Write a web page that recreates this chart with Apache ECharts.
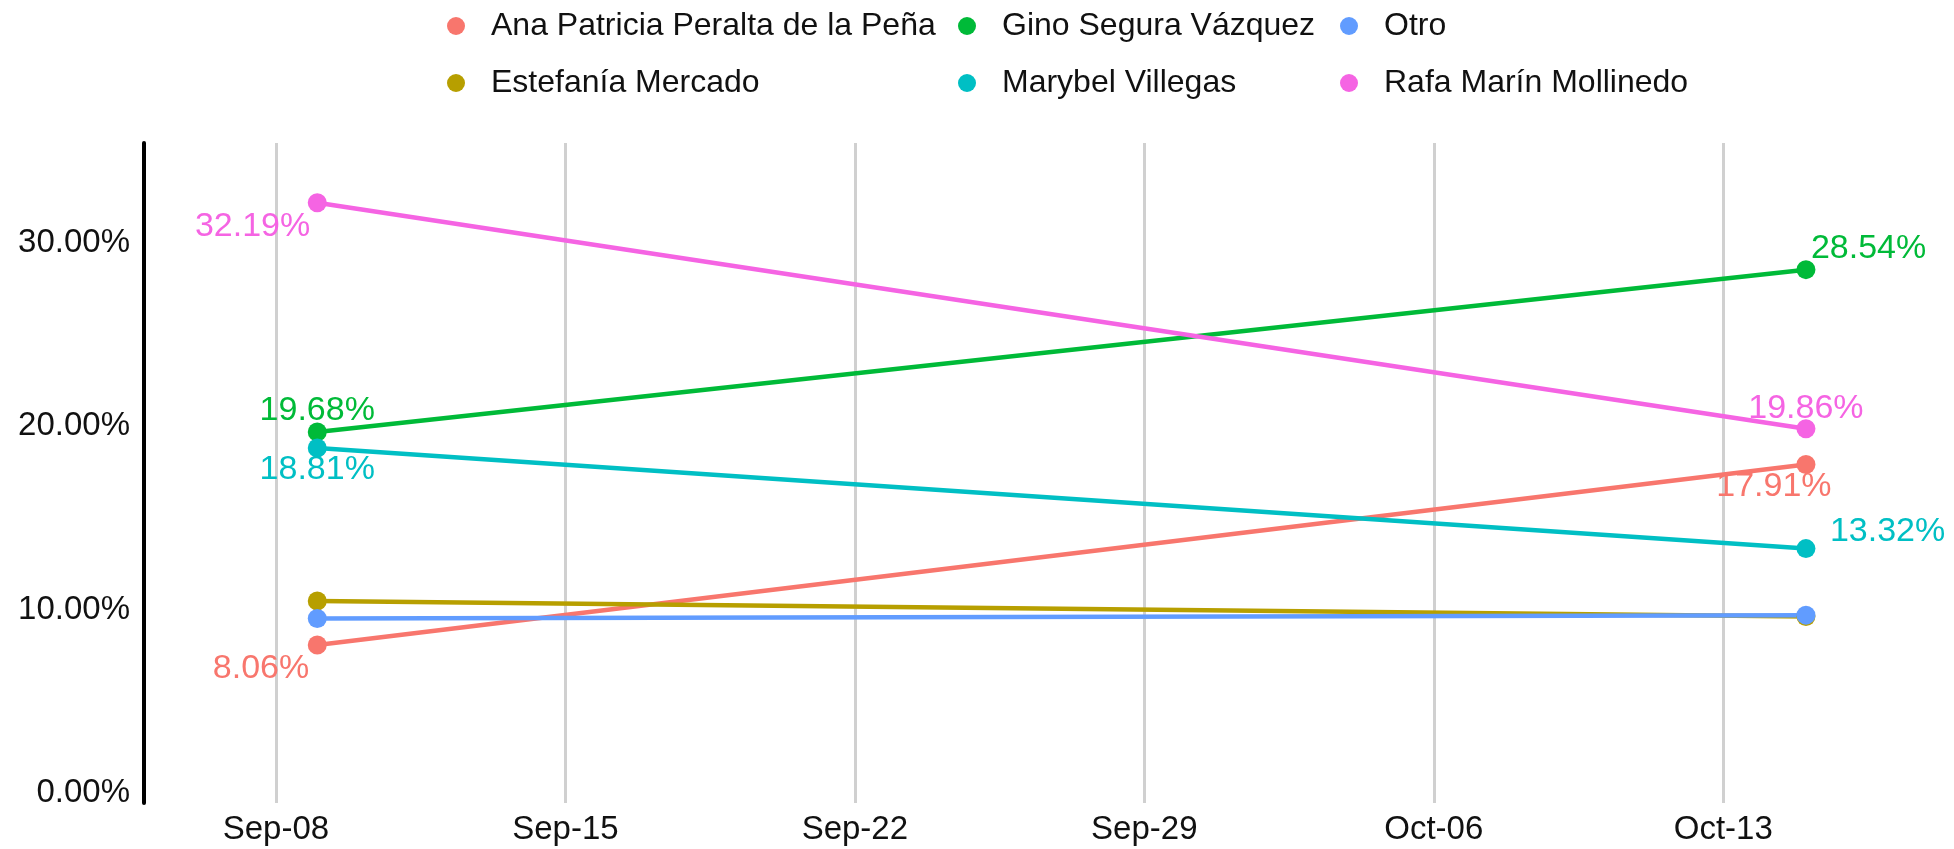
<!DOCTYPE html>
<html>
<head>
<meta charset="utf-8">
<script src="https://cdn.jsdelivr.net/npm/echarts@6/dist/echarts.min.js"></script>
<style>
html, body { margin: 0; padding: 0; background: #ffffff; }
#chart { width: 1954px; height: 849px; }
</style>
</head>
<body>
<div id="chart"></div>
<script>
// ---- data ----
const dates = ['2022-09-09', '2022-10-15'];
const candidates = [
  'Ana Patricia Peralta de la Peña',
  'Estefanía Mercado',
  'Gino Segura Vázquez',
  'Marybel Villegas',
  'Otro',
  'Rafa Marín Mollinedo'
];
const anaValues = [8.06, 17.91];
const estefaniaValues = [10.46, 9.62];
const ginoValues = [19.68, 28.54];
const marybelValues = [18.81, 13.32];
const otroValues = [9.51, 9.69];
const rafaValues = [32.19, 19.86];
const tickDates = ['2022-09-08', '2022-09-15', '2022-09-22', '2022-09-29', '2022-10-06', '2022-10-13'];
const tickLabels = ['Sep-08', 'Sep-15', 'Sep-22', 'Sep-29', 'Oct-06', 'Oct-13'];
const yTicks = [0, 10, 20, 30];

// ---- styles ----
const colors = ['#F8766D', '#B79F00', '#00BA38', '#00BFC4', '#619CFF', '#F564E3'];
const FONT = '"Liberation Sans", Arial, Helvetica, sans-serif';
// label placement per series, per point (null = no label)
const labelPlacement = [
  [{ align: 'right', dx: -8, dy: 24 }, { align: 'center', dx: -32, dy: 22 }],
  [null, null],
  [{ align: 'center', dx: 0, dy: -21 }, { align: 'left', dx: 5, dy: -21 }],
  [{ align: 'center', dx: 0, dy: 22 }, { align: 'left', dx: 24, dy: -17 }],
  [null, null],
  [{ align: 'right', dx: -7, dy: 24 }, { align: 'center', dx: 0, dy: -20 }]
];

const DAY = 86400000;
function t(s) { const p = s.split('-').map(Number); return Date.UTC(p[0], p[1] - 1, p[2]); }
const xTimes = dates.map(t);
const tickTimes = tickDates.map(t);
const seriesValues = [anaValues, estefaniaValues, ginoValues, marybelValues, otroValues, rafaValues];

const series = candidates.map((name, i) => ({
  name: name,
  type: 'line',
  z: 2,
  symbol: 'circle',
  symbolSize: 19,
  showSymbol: true,
  animation: false,
  color: colors[i],
  lineStyle: { width: 4.5, color: colors[i] },
  itemStyle: { color: colors[i] },
  emphasis: { disabled: true },
  data: seriesValues[i].map((v, j) => {
    const pl = labelPlacement[i][j];
    const item = { value: [xTimes[j], v] };
    if (pl) {
      item.label = {
        show: true,
        position: 'inside',
        align: pl.align,
        verticalAlign: 'middle',
        offset: [pl.dx, pl.dy],
        formatter: (p) => p.value[1].toFixed(2) + '%',
        color: colors[i],
        fontSize: 34,
        fontFamily: FONT
      };
    }
    return item;
  })
}));

series.unshift({
  name: 'grid',
  type: 'line',
  z: 1,
  silent: true,
  data: [],
  markLine: {
    z: 1,
    silent: true,
    animation: false,
    symbol: ['none', 'none'],
    label: { show: false },
    lineStyle: { color: '#d0d0d0', width: 3, type: 'solid' },
    emphasis: { disabled: true },
    data: tickTimes.map(v => ({ xAxis: v }))
  }
});

const legendBase = {
  orient: 'vertical',
  top: 5,
  itemWidth: 60,
  itemHeight: 18,
  itemGap: 25,
  icon: 'circle',
  selectedMode: false,
  textStyle: { fontSize: 32, lineHeight: 32, color: '#111', fontFamily: FONT }
};

const chart = echarts.init(document.getElementById('chart'), null, { renderer: 'canvas' });
chart.setOption({
  backgroundColor: '#ffffff',
  animation: false,
  legend: [
    Object.assign({}, legendBase, { left: 442, data: [candidates[0], candidates[1]] }),
    Object.assign({}, legendBase, { left: 953, data: [candidates[2], candidates[3]] }),
    Object.assign({}, legendBase, { left: 1335, data: [candidates[4], candidates[5]] })
  ],
  grid: { left: 144, right: 24, top: 143, bottom: 46, containLabel: false },
  xAxis: {
    type: 'value',
    min: tickTimes[0] - 3.19 * DAY,
    max: tickTimes[0] + 40 * DAY,
    axisLine: { show: false },
    axisTick: { show: false },
    splitLine: { show: false },
    axisLabel: {
      customValues: tickTimes,
      formatter: (v) => tickLabels[tickTimes.indexOf(v)] || '',
      fontSize: 33,
      fontFamily: FONT,
      color: '#111',
      margin: 10
    }
  },
  yAxis: {
    type: 'value',
    min: -0.56,
    max: 35.45,
    axisLine: { show: true, lineStyle: { color: '#000', width: 4 } },
    axisTick: { show: false },
    splitLine: { show: false },
    axisLabel: {
      customValues: yTicks,
      formatter: (v) => v.toFixed(2) + '%',
      fontSize: 33,
      fontFamily: FONT,
      color: '#111',
      margin: 14
    }
  },
  series: series
});
</script>
</body>
</html>
